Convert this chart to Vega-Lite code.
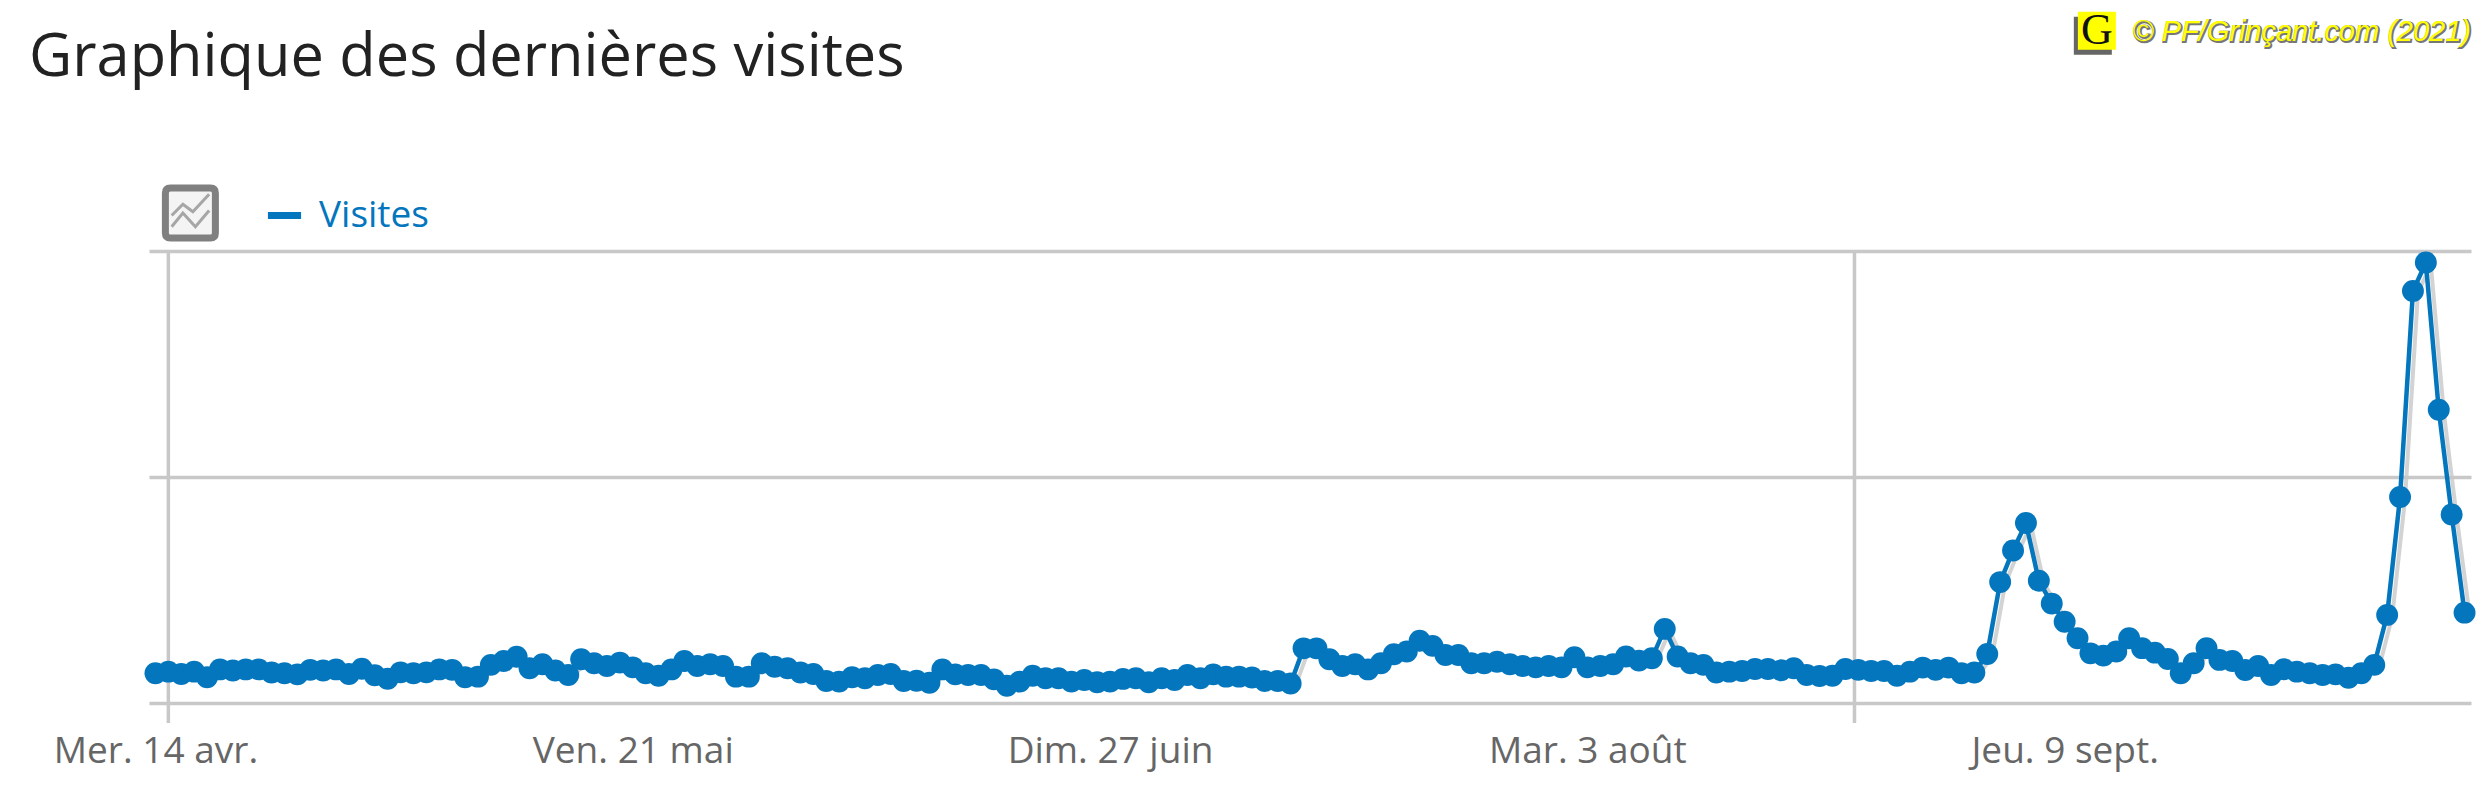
{"$schema":"https://vega.github.io/schema/vega-lite/v6.json","autosize":"none","padding":{"left":149,"top":251,"right":19,"bottom":67},"width":2322,"height":472,"background":"#ffffff","config":{"view":{"stroke":null}},"title":{"text":"Graphique des dernières visites","anchor":"start","frame":"group","align":"left","dx":-120,"offset":-127,"baseline":"alphabetic","font":"Open Sans","fontSize":59.5,"fontWeight":400,"color":"#222222"},"encoding":{"x":{"field":"d","type":"temporal","title":null,"scale":{"type":"utc","domain":["2021-04-13T12:00:00Z","2021-10-10T12:00:00Z"]},"axis":{"values":[{"year":2021,"month":4,"date":14,"utc":true},{"year":2021,"month":5,"date":21,"utc":true},{"year":2021,"month":6,"date":27,"utc":true},{"year":2021,"month":8,"date":3,"utc":true},{"year":2021,"month":9,"date":9,"utc":true}],"labelExpr":"['Mer. 14 avr.','Ven. 21 mai','Dim. 27 juin','Mar. 3 août','Jeu. 9 sept.'][round(datum.index*4)]","grid":false,"ticks":false,"domain":false,"labelFont":"Open Sans","labelFontSize":37,"labelColor":"#666666","labelPadding":10,"labelOverlap":false,"labelBound":false,"labelFlush":false,"labelLimit":500}},"y":{"field":"v","type":"quantitative","title":null,"scale":{"domain":[-87,2000],"nice":false,"zero":false},"axis":{"values":[0,1000,2000],"labels":false,"ticks":false,"domain":false,"grid":true,"gridColor":"#c8c8c8","gridWidth":3.5}}},"layer":[{"data":{"values":[{"d":"2021-04-15T00:00:00Z"},{"d":"2021-08-23T17:00:00Z"}]},"mark":{"type":"rule","color":"#c8c8c8","strokeWidth":3.5},"encoding":{"y":{"value":0},"y2":{"value":472}}},{"data":{"name":"visites"},"mark":{"type":"line","color":"#c8c8c8","strokeWidth":4,"xOffset":5,"yOffset":2,"opacity":0.8}},{"data":{"name":"visites"},"mark":{"type":"line","strokeWidth":4.5},"encoding":{"color":{"field":"serie","type":"nominal","scale":{"domain":["Visites"],"range":["#0476bd"]},"legend":{"title":null,"orient":"none","legendX":115,"legendY":-56,"symbolType":"stroke","symbolSize":1100,"symbolStrokeWidth":7,"labelFont":"Open Sans","labelFontSize":37,"labelColor":"#0476bd","labelOffset":14,"labelLimit":300,"padding":0}}}},{"data":{"name":"visites"},"mark":{"type":"point","filled":true,"opacity":1,"color":"#0476bd","size":480}},{"data":{"values":[{"d":"2021-04-16T17:00:00Z","v":2168}]},"mark":{"type":"point","shape":"M-0.8,-1 H0.8 Q1,-1 1,-0.8 V0.8 Q1,1 0.8,1 H-0.8 Q-1,1 -1,0.8 V-0.8 Q-1,-1 -0.8,-1 Z","filled":true,"fill":"#f4f4f4","stroke":"#808080","strokeWidth":7,"opacity":1,"size":2500}},{"data":{"values":[{"d":"2021-04-16T17:00:00Z","v":2168}]},"mark":{"type":"point","shape":"M-0.75,0.1 L-0.3,-0.35 L0.1,-0.05 L0.75,-0.75 M-0.75,0.55 L-0.3,0 L0.2,0.55 L0.75,-0.1","filled":false,"stroke":"#a6a6a6","strokeWidth":3,"opacity":1,"size":2500}},{"data":{"values":[{"d":"2021-09-11T10:00:00Z","v":2965}]},"mark":{"type":"square","filled":true,"color":"#666666","size":1444,"opacity":1,"xOffset":-3,"yOffset":3}},{"data":{"values":[{"d":"2021-09-11T12:00:00Z","v":2974}]},"mark":{"type":"square","filled":true,"color":"#ffff00","size":1444,"opacity":1}},{"data":{"values":[{"d":"2021-09-11T12:00:00Z","v":2974,"t":"G"}]},"mark":{"type":"text","font":"Liberation Serif","fontSize":44,"color":"#111111","align":"center","baseline":"middle"},"encoding":{"text":{"field":"t"}}},{"data":{"values":[{"d":"2021-10-10T12:00:00Z","v":2970,"t":"© PF/Grinçant.com (2021)"}]},"mark":{"type":"text","font":"Liberation Sans","fontStyle":"italic","fontSize":29,"color":"#777777","stroke":"#777777","strokeWidth":2,"align":"right","baseline":"middle","dx":1,"dy":1},"encoding":{"text":{"field":"t"}}},{"data":{"values":[{"d":"2021-10-10T12:00:00Z","v":2970,"t":"© PF/Grinçant.com (2021)"}]},"mark":{"type":"text","font":"Liberation Sans","fontStyle":"italic","fontSize":29,"color":"#ffff00","align":"right","baseline":"middle"},"encoding":{"text":{"field":"t"}}}],"datasets":{"visites":[{"serie":"Visites","d":"2021-04-14","v":133},{"serie":"Visites","d":"2021-04-15","v":140},{"serie":"Visites","d":"2021-04-16","v":130},{"serie":"Visites","d":"2021-04-17","v":140},{"serie":"Visites","d":"2021-04-18","v":115},{"serie":"Visites","d":"2021-04-19","v":150},{"serie":"Visites","d":"2021-04-20","v":145},{"serie":"Visites","d":"2021-04-21","v":150},{"serie":"Visites","d":"2021-04-22","v":150},{"serie":"Visites","d":"2021-04-23","v":136},{"serie":"Visites","d":"2021-04-24","v":133},{"serie":"Visites","d":"2021-04-25","v":128},{"serie":"Visites","d":"2021-04-26","v":148},{"serie":"Visites","d":"2021-04-27","v":145},{"serie":"Visites","d":"2021-04-28","v":150},{"serie":"Visites","d":"2021-04-29","v":130},{"serie":"Visites","d":"2021-04-30","v":153},{"serie":"Visites","d":"2021-05-01","v":124},{"serie":"Visites","d":"2021-05-02","v":109},{"serie":"Visites","d":"2021-05-03","v":137},{"serie":"Visites","d":"2021-05-04","v":133},{"serie":"Visites","d":"2021-05-05","v":137},{"serie":"Visites","d":"2021-05-06","v":150},{"serie":"Visites","d":"2021-05-07","v":148},{"serie":"Visites","d":"2021-05-08","v":115},{"serie":"Visites","d":"2021-05-09","v":118},{"serie":"Visites","d":"2021-05-10","v":170},{"serie":"Visites","d":"2021-05-11","v":187},{"serie":"Visites","d":"2021-05-12","v":206},{"serie":"Visites","d":"2021-05-13","v":155},{"serie":"Visites","d":"2021-05-14","v":173},{"serie":"Visites","d":"2021-05-15","v":145},{"serie":"Visites","d":"2021-05-16","v":125},{"serie":"Visites","d":"2021-05-17","v":195},{"serie":"Visites","d":"2021-05-18","v":177},{"serie":"Visites","d":"2021-05-19","v":165},{"serie":"Visites","d":"2021-05-20","v":180},{"serie":"Visites","d":"2021-05-21","v":159},{"serie":"Visites","d":"2021-05-22","v":133},{"serie":"Visites","d":"2021-05-23","v":122},{"serie":"Visites","d":"2021-05-24","v":150},{"serie":"Visites","d":"2021-05-25","v":187},{"serie":"Visites","d":"2021-05-26","v":165},{"serie":"Visites","d":"2021-05-27","v":173},{"serie":"Visites","d":"2021-05-28","v":165},{"serie":"Visites","d":"2021-05-29","v":118},{"serie":"Visites","d":"2021-05-30","v":118},{"serie":"Visites","d":"2021-05-31","v":177},{"serie":"Visites","d":"2021-06-01","v":162},{"serie":"Visites","d":"2021-06-02","v":155},{"serie":"Visites","d":"2021-06-03","v":136},{"serie":"Visites","d":"2021-06-04","v":130},{"serie":"Visites","d":"2021-06-05","v":99},{"serie":"Visites","d":"2021-06-06","v":96},{"serie":"Visites","d":"2021-06-07","v":115},{"serie":"Visites","d":"2021-06-08","v":111},{"serie":"Visites","d":"2021-06-09","v":125},{"serie":"Visites","d":"2021-06-10","v":130},{"serie":"Visites","d":"2021-06-11","v":99},{"serie":"Visites","d":"2021-06-12","v":100},{"serie":"Visites","d":"2021-06-13","v":91},{"serie":"Visites","d":"2021-06-14","v":150},{"serie":"Visites","d":"2021-06-15","v":128},{"serie":"Visites","d":"2021-06-16","v":125},{"serie":"Visites","d":"2021-06-17","v":125},{"serie":"Visites","d":"2021-06-18","v":106},{"serie":"Visites","d":"2021-06-19","v":78},{"serie":"Visites","d":"2021-06-20","v":96},{"serie":"Visites","d":"2021-06-21","v":122},{"serie":"Visites","d":"2021-06-22","v":111},{"serie":"Visites","d":"2021-06-23","v":111},{"serie":"Visites","d":"2021-06-24","v":96},{"serie":"Visites","d":"2021-06-25","v":103},{"serie":"Visites","d":"2021-06-26","v":93},{"serie":"Visites","d":"2021-06-27","v":96},{"serie":"Visites","d":"2021-06-28","v":108},{"serie":"Visites","d":"2021-06-29","v":111},{"serie":"Visites","d":"2021-06-30","v":93},{"serie":"Visites","d":"2021-07-01","v":111},{"serie":"Visites","d":"2021-07-02","v":103},{"serie":"Visites","d":"2021-07-03","v":125},{"serie":"Visites","d":"2021-07-04","v":111},{"serie":"Visites","d":"2021-07-05","v":128},{"serie":"Visites","d":"2021-07-06","v":118},{"serie":"Visites","d":"2021-07-07","v":118},{"serie":"Visites","d":"2021-07-08","v":114},{"serie":"Visites","d":"2021-07-09","v":99},{"serie":"Visites","d":"2021-07-10","v":99},{"serie":"Visites","d":"2021-07-11","v":88},{"serie":"Visites","d":"2021-07-12","v":243},{"serie":"Visites","d":"2021-07-13","v":243},{"serie":"Visites","d":"2021-07-14","v":195},{"serie":"Visites","d":"2021-07-15","v":165},{"serie":"Visites","d":"2021-07-16","v":173},{"serie":"Visites","d":"2021-07-17","v":150},{"serie":"Visites","d":"2021-07-18","v":177},{"serie":"Visites","d":"2021-07-19","v":217},{"serie":"Visites","d":"2021-07-20","v":229},{"serie":"Visites","d":"2021-07-21","v":277},{"serie":"Visites","d":"2021-07-22","v":254},{"serie":"Visites","d":"2021-07-23","v":214},{"serie":"Visites","d":"2021-07-24","v":214},{"serie":"Visites","d":"2021-07-25","v":177},{"serie":"Visites","d":"2021-07-26","v":177},{"serie":"Visites","d":"2021-07-27","v":184},{"serie":"Visites","d":"2021-07-28","v":173},{"serie":"Visites","d":"2021-07-29","v":165},{"serie":"Visites","d":"2021-07-30","v":159},{"serie":"Visites","d":"2021-07-31","v":165},{"serie":"Visites","d":"2021-08-01","v":159},{"serie":"Visites","d":"2021-08-02","v":204},{"serie":"Visites","d":"2021-08-03","v":159},{"serie":"Visites","d":"2021-08-04","v":165},{"serie":"Visites","d":"2021-08-05","v":173},{"serie":"Visites","d":"2021-08-06","v":207},{"serie":"Visites","d":"2021-08-07","v":189},{"serie":"Visites","d":"2021-08-08","v":199},{"serie":"Visites","d":"2021-08-09","v":329},{"serie":"Visites","d":"2021-08-10","v":207},{"serie":"Visites","d":"2021-08-11","v":177},{"serie":"Visites","d":"2021-08-12","v":170},{"serie":"Visites","d":"2021-08-13","v":136},{"serie":"Visites","d":"2021-08-14","v":140},{"serie":"Visites","d":"2021-08-15","v":143},{"serie":"Visites","d":"2021-08-16","v":152},{"serie":"Visites","d":"2021-08-17","v":152},{"serie":"Visites","d":"2021-08-18","v":146},{"serie":"Visites","d":"2021-08-19","v":155},{"serie":"Visites","d":"2021-08-20","v":125},{"serie":"Visites","d":"2021-08-21","v":121},{"serie":"Visites","d":"2021-08-22","v":122},{"serie":"Visites","d":"2021-08-23","v":152},{"serie":"Visites","d":"2021-08-24","v":148},{"serie":"Visites","d":"2021-08-25","v":143},{"serie":"Visites","d":"2021-08-26","v":143},{"serie":"Visites","d":"2021-08-27","v":122},{"serie":"Visites","d":"2021-08-28","v":140},{"serie":"Visites","d":"2021-08-29","v":158},{"serie":"Visites","d":"2021-08-30","v":148},{"serie":"Visites","d":"2021-08-31","v":158},{"serie":"Visites","d":"2021-09-01","v":133},{"serie":"Visites","d":"2021-09-02","v":136},{"serie":"Visites","d":"2021-09-03","v":218},{"serie":"Visites","d":"2021-09-04","v":536},{"serie":"Visites","d":"2021-09-05","v":676},{"serie":"Visites","d":"2021-09-06","v":797},{"serie":"Visites","d":"2021-09-07","v":542},{"serie":"Visites","d":"2021-09-08","v":441},{"serie":"Visites","d":"2021-09-09","v":361},{"serie":"Visites","d":"2021-09-10","v":288},{"serie":"Visites","d":"2021-09-11","v":221},{"serie":"Visites","d":"2021-09-12","v":211},{"serie":"Visites","d":"2021-09-13","v":229},{"serie":"Visites","d":"2021-09-14","v":288},{"serie":"Visites","d":"2021-09-15","v":244},{"serie":"Visites","d":"2021-09-16","v":224},{"serie":"Visites","d":"2021-09-17","v":196},{"serie":"Visites","d":"2021-09-18","v":133},{"serie":"Visites","d":"2021-09-19","v":177},{"serie":"Visites","d":"2021-09-20","v":244},{"serie":"Visites","d":"2021-09-21","v":192},{"serie":"Visites","d":"2021-09-22","v":187},{"serie":"Visites","d":"2021-09-23","v":147},{"serie":"Visites","d":"2021-09-24","v":165},{"serie":"Visites","d":"2021-09-25","v":125},{"serie":"Visites","d":"2021-09-26","v":151},{"serie":"Visites","d":"2021-09-27","v":140},{"serie":"Visites","d":"2021-09-28","v":133},{"serie":"Visites","d":"2021-09-29","v":125},{"serie":"Visites","d":"2021-09-30","v":128},{"serie":"Visites","d":"2021-10-01","v":113},{"serie":"Visites","d":"2021-10-02","v":133},{"serie":"Visites","d":"2021-10-03","v":170},{"serie":"Visites","d":"2021-10-04","v":391},{"serie":"Visites","d":"2021-10-05","v":912},{"serie":"Visites","d":"2021-10-06","v":1823},{"serie":"Visites","d":"2021-10-07","v":1949},{"serie":"Visites","d":"2021-10-08","v":1298},{"serie":"Visites","d":"2021-10-09","v":835},{"serie":"Visites","d":"2021-10-10","v":401}]}}
